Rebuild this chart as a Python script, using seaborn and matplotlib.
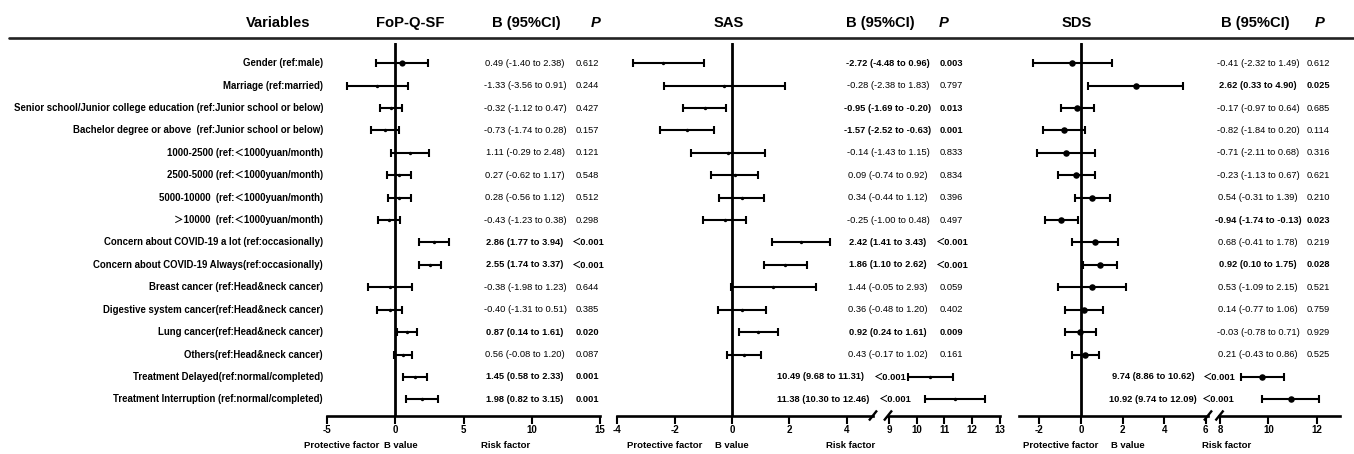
import numpy as np
import matplotlib
matplotlib.use("Agg")
import matplotlib.pyplot as plt
import matplotlib.transforms as mtransforms
from matplotlib.lines import Line2D
import seaborn as sns

# ---------------- data ----------------
variables = [
    "Gender (ref:male)",
    "Marriage (ref:married)",
    "Senior school/Junior college education (ref:Junior school or below)",
    "Bachelor degree or above  (ref:Junior school or below)",
    "1000-2500 (ref:\uff1c1000yuan/month)",
    "2500-5000 (ref:\uff1c1000yuan/month)",
    "5000-10000  (ref:\uff1c1000yuan/month)",
    "\uff1e10000  (ref:\uff1c1000yuan/month)",
    "Concern about COVID-19 a lot (ref:occasionally)",
    "Concern about COVID-19 Always(ref:occasionally)",
    "Breast cancer (ref:Head&neck cancer)",
    "Digestive system cancer(ref:Head&neck cancer)",
    "Lung cancer(ref:Head&neck cancer)",
    "Others(ref:Head&neck cancer)",
    "Treatment Delayed(ref:normal/completed)",
    "Treatment Interruption (ref:normal/completed)",
]

fop_b = [0.49, -1.33, -0.32, -0.73, 1.11, 0.27, 0.28, -0.43, 2.86, 2.55, -0.38, -0.40, 0.87, 0.56, 1.45, 1.98]
fop_lo = [-1.40, -3.56, -1.12, -1.74, -0.29, -0.62, -0.56, -1.23, 1.77, 1.74, -1.98, -1.31, 0.14, -0.08, 0.58, 0.82]
fop_hi = [2.38, 0.91, 0.47, 0.28, 2.48, 1.17, 1.12, 0.38, 3.94, 3.37, 1.23, 0.51, 1.61, 1.20, 2.33, 3.15]
fop_p = ["0.612", "0.244", "0.427", "0.157", "0.121", "0.548", "0.512", "0.298",
         "\uff1c0.001", "\uff1c0.001", "0.644", "0.385", "0.020", "0.087", "0.001", "0.001"]

sas_b = [-2.72, -0.28, -0.95, -1.57, -0.14, 0.09, 0.34, -0.25, 2.42, 1.86, 1.44, 0.36, 0.92, 0.43, 10.49, 11.38]
sas_lo = [-4.48, -2.38, -1.69, -2.52, -1.43, -0.74, -0.44, -1.00, 1.41, 1.10, -0.05, -0.48, 0.24, -0.17, 9.68, 10.30]
sas_hi = [0.96, 1.83, -0.20, -0.63, 1.15, 0.92, 1.12, 0.48, 3.43, 2.62, 2.93, 1.20, 1.61, 1.02, 11.31, 12.46]
sas_p = ["0.003", "0.797", "0.013", "0.001", "0.833", "0.834", "0.396", "0.497",
         "\uff1c0.001", "\uff1c0.001", "0.059", "0.402", "0.009", "0.161", "\uff1c0.001", "\uff1c0.001"]
# the first SAS bar is drawn in the picture at a different place than its printed label
sas_drawn_b = [-2.39] + sas_b[1:]
sas_drawn_lo = [-3.46] + sas_lo[1:]
sas_drawn_hi = [-0.97] + sas_hi[1:]

sds_b = [-0.41, 2.62, -0.17, -0.82, -0.71, -0.23, 0.54, -0.94, 0.68, 0.92, 0.53, 0.14, -0.03, 0.21, 9.74, 10.92]
sds_lo = [-2.32, 0.33, -0.97, -1.84, -2.11, -1.13, -0.31, -1.74, -0.41, 0.10, -1.09, -0.77, -0.78, -0.43, 8.86, 9.74]
sds_hi = [1.49, 4.90, 0.64, 0.20, 0.68, 0.67, 1.39, -0.13, 1.78, 1.75, 2.15, 1.06, 0.71, 0.86, 10.62, 12.09]
sds_p = ["0.612", "0.025", "0.685", "0.114", "0.316", "0.621", "0.210", "0.023",
         "0.219", "0.028", "0.521", "0.759", "0.929", "0.525", "\uff1c0.001", "\uff1c0.001"]

fop_ticks = [-5, 0, 5, 10, 15]
sas_ticks_left = [-4, -2, 0, 2, 4]
sas_ticks_right = [9, 10, 11, 12, 13]
sds_ticks_left = [-2, 0, 2, 4, 6]
sds_ticks_right = [8, 10, 12]

# ---------------- style ----------------
sns.set_style("white")
plt.rcParams['font.family'] = ['Liberation Sans', 'Noto Sans CJK SC', 'DejaVu Sans']
plt.rcParams['text.color'] = 'black'

W, H = 1354, 454
fig = plt.figure(figsize=(W / 100, H / 100), dpi=100)
fig.patch.set_facecolor('white')

TOP, BOT = 43.0, 415.5
ROW0, STEP = 63.3, 22.4
Y_TOP = (TOP - ROW0) / STEP
Y_BOT = (BOT - ROW0) / STEP
rows = np.arange(len(variables))


def fx(x):
    return x / W


def fy(y):
    return 1 - y / H


def add_ax(x0, x1, xlim):
    ax = fig.add_axes([fx(x0), fy(BOT), (x1 - x0) / W, (BOT - TOP) / H])
    ax.set_facecolor('none')
    for side in ('top', 'right', 'left'):
        ax.spines[side].set_visible(False)
    ax.spines['bottom'].set_linewidth(1.9)
    ax.spines['bottom'].set_color('black')
    ax.set_yticks([])
    ax.set_xlim(*xlim)
    ax.set_ylim(Y_BOT, Y_TOP)
    return ax


def finish(ax, xlim, ticks):
    ax.set_xlim(*xlim)
    ax.set_ylim(Y_BOT, Y_TOP)
    ax.set_xticks(ticks, labels=[str(t) for t in ticks], fontsize=7.0, fontweight='bold')
    ax.tick_params(axis='x', bottom=True, direction='out', length=5.5, width=1.5,
                   pad=1.5, color='black', labelcolor='black')
    ax.set_yticks([])
    ax.set(xlabel='', ylabel='')


def draw(ax, idx, b, lo, hi, s):
    idx = np.asarray(idx)
    b = np.asarray(b, float)[idx]
    lo = np.asarray(lo, float)[idx]
    hi = np.asarray(hi, float)[idx]
    ax.errorbar(b, rows[idx], xerr=[b - lo, hi - b], fmt='none', ecolor='black',
                elinewidth=1.5, capsize=2.6, capthick=1.5, zorder=3)
    sns.scatterplot(x=b, y=rows[idx], ax=ax, s=s, color='black', edgecolor='black',
                    linewidth=0, zorder=4, legend=False)


# panel 1 : FoP-Q-SF
lim1 = (-5, 15)
ax1 = add_ax(327.0, 600.0, lim1)
ax1.axvline(0, color='black', lw=2.0, zorder=2)
draw(ax1, [0], fop_b, fop_lo, fop_hi, 20)
draw(ax1, rows[1:], fop_b, fop_lo, fop_hi, 6)
finish(ax1, lim1, fop_ticks)

# panel 2 : SAS (broken axis)
lim2a, lim2b = (-4, 4.9), (8.95, 13)
ax2a = add_ax(617.2, 872.6, lim2a)
ax2a.axvline(0, color='black', lw=2.0, zorder=2)
draw(ax2a, rows[:14], sas_drawn_b, sas_drawn_lo, sas_drawn_hi, 6)
finish(ax2a, lim2a, sas_ticks_left)
ax2b = add_ax(887.6, 1000.0, lim2b)
draw(ax2b, rows[14:], sas_drawn_b, sas_drawn_lo, sas_drawn_hi, 6)
finish(ax2b, lim2b, sas_ticks_right)

# panel 3 : SDS (broken axis)
lim3a, lim3b = (-3, 6.1), (7.95, 12.95)
ax3a = add_ax(1018.6, 1207.9, lim3a)
ax3a.axvline(0, color='black', lw=2.0, zorder=2)
draw(ax3a, rows[:14], sds_b, sds_lo, sds_hi, 22)
finish(ax3a, lim3a, sds_ticks_left)
ax3b = add_ax(1218.8, 1340.0, lim3b)
draw(ax3b, rows[14:], sds_b, sds_lo, sds_hi, 22)
finish(ax3b, lim3b, sds_ticks_right)

# break marks
for xc in (873.0, 888.0, 1208.0, 1219.5):
    fig.add_artist(Line2D([fx(xc - 4), fx(xc + 4)], [fy(BOT + 5), fy(BOT - 5)],
                          transform=fig.transFigure, color='black', lw=1.7,
                          solid_capstyle='butt'))

# header
hdr = dict(fontsize=10.6, fontweight='bold', ha='center', va='center')
fig.text(fx(278.5), fy(23), "Variables", **hdr)
fig.text(fx(410), fy(23), "FoP-Q-SF", **hdr)
fig.text(fx(526), fy(23), "B (95%CI)", **hdr)
fig.text(fx(596), fy(23), "P", fontstyle='italic', **hdr)
fig.text(fx(729), fy(23), "SAS", **hdr)
fig.text(fx(880.5), fy(23), "B (95%CI)", **hdr)
fig.text(fx(944), fy(23), "P", fontstyle='italic', **hdr)
fig.text(fx(1077), fy(23), "SDS", **hdr)
fig.text(fx(1255.5), fy(23), "B (95%CI)", **hdr)
fig.text(fx(1320), fy(23), "P", fontstyle='italic', **hdr)
fig.add_artist(Line2D([fx(9), 1.0], [fy(38), fy(38)], transform=fig.transFigure,
                      color='#222222', lw=1.9))

# row labels
trans = mtransforms.blended_transform_factory(fig.transFigure, ax1.transData)
for i, v in enumerate(variables):
    fig.text(fx(323), i, v, transform=trans, ha='right', va='center',
             fontsize=6.9, fontweight='bold')


def sig(p):
    return p[0] in '<\uff1c' or float(p) < 0.05


def ci_text(b, lo, hi):
    return f"{b:.2f} ({lo:.2f} to {hi:.2f})"


def put_stats(b, lo, hi, p, ci_x, p_x, special=None):
    for i in range(len(b)):
        w = 'bold' if sig(p[i]) else 'normal'
        cx, px_, cha = ci_x, p_x, 'center'
        if special and i in special:
            cx, px_, cha = special[i]
        fig.text(fx(cx), i, ci_text(b[i], lo[i], hi[i]), transform=trans, ha=cha,
                 va='center', fontsize=6.7, fontweight=w)
        fig.text(fx(px_), i, p[i], transform=trans, ha='center', va='center',
                 fontsize=6.7, fontweight=w)


put_stats(fop_b, fop_lo, fop_hi, fop_p, 525, 587)
put_stats(sas_b, sas_lo, sas_hi, sas_p, 888, 951,
          special={14: (777, 889, 'left'), 15: (777, 894, 'left')})
put_stats(sds_b, sds_lo, sds_hi, sds_p, 1258, 1318,
          special={14: (1153, 1218, 'center'), 15: (1153, 1217, 'center')})

# bottom labels
bl = dict(fontsize=6.8, fontweight='bold', ha='center', va='center')
for xs in ((341.5, 401, 505.5), (664.5, 731.5, 851), (1060.5, 1127.5, 1226.5)):
    for x, t in zip(xs, ("Protective factor", "B value", "Risk factor")):
        fig.text(fx(x), fy(445), t, **bl)

fig.savefig("out.png", dpi=100, facecolor='white')
